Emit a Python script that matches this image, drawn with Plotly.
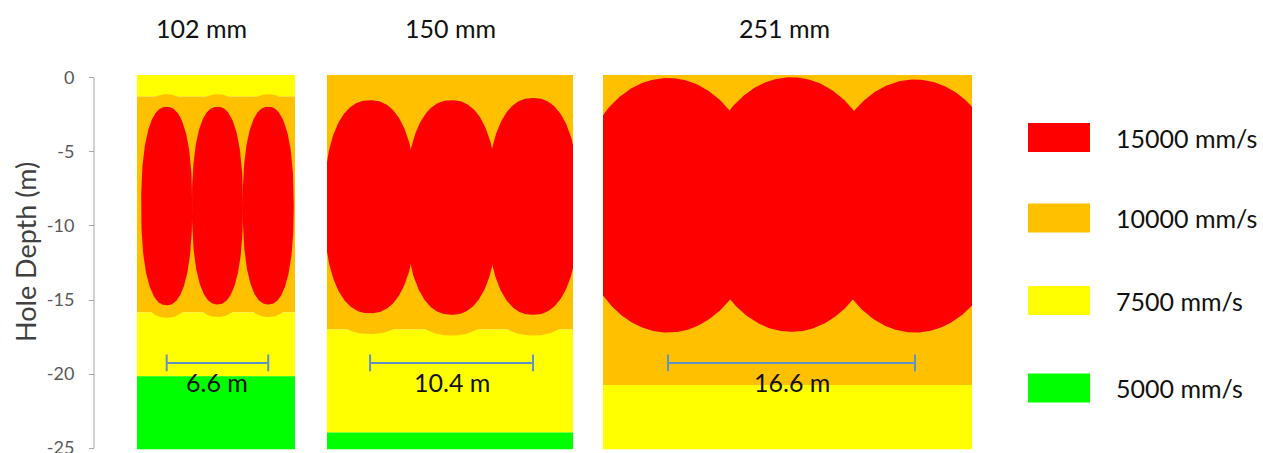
import numpy as np
import plotly.graph_objects as go

# ---------------------------------------------------------------- data
diameters_mm = [102, 150, 251]            # hole diameter per panel
span_m = [6.6, 10.4, 16.6]                # first-to-last hole distance (3 holes)
ppv_levels = [15000, 10000, 7500, 5000]   # contour levels, mm/s

# modelled section extent, metres from the centre hole
extent_102 = [-5.23, 5.04]
extent_150 = [-7.95, 7.75]
extent_251 = [-12.67, 12.13]
section_top = 0.2                          # m

# horizontal bands, top to bottom: PPV level and base depth (m)
bands_102_level = [7500, 10000, 7500, 5000]
bands_102_base = [-1.25, -15.85, -20.15, -25.1]
bands_150_level = [10000, 7500, 5000]
bands_150_base = [-17.0, -23.95, -25.1]
bands_251_level = [10000, 7500]
bands_251_base = [-20.75, -25.1]

# 15000 mm/s core around each hole: top / bottom depth (m) and half-width (m)
core_102_top = [-1.95, -1.95, -1.95]
core_102_bottom = [-15.35, -15.3, -15.3]
core_102_halfwidth = 1.66
core_150_top = [-1.5, -1.5, -1.35]
core_150_bottom = [-15.9, -16.0, -16.0]
core_150_halfwidth = 2.94
core_251_top = [0.0, 0.05, -0.1]
core_251_bottom = [-17.2, -17.15, -17.2]
core_251_halfwidth = 6.2

# 10000 mm/s envelope margin around each core (m)
halo_102 = 0.85
halo_150 = 1.4
halo_251 = 0.0

# y-axis ticks
depth_ticks = [0, -5, -10, -15, -20, -25]

# ---------------------------------------------------------------- style
W, H = 1263, 453
FONT = "Lato"
level_colors = {15000: "#FF0000", 10000: "#FFC000", 7500: "#FFFF00", 5000: "#00FF00"}
bar_color = "#5F93C8"
core_exponent = [2.35, 2.3, 2.0]           # superellipse squareness per panel
panel_px = [(137, 295), (327, 573), (603, 972)]
title_px = [202, 450, 784]
axis_px = 94
y_top_px, y_bot_px = 75, 449.5
bar_depth = -19.25
bar_label_depth = -20.55
y_range = [-25.1, section_top]


def px_x(p):
    return p / W


def px_y(p):
    return 1 - p / H


def superellipse(xc, yc, a, b, n, m=360):
    t = np.linspace(0, 2 * np.pi, m)
    c, s = np.cos(t), np.sin(t)
    x = xc + a * np.sign(c) * np.abs(c) ** (2 / n)
    y = yc + b * np.sign(s) * np.abs(s) ** (2 / n)
    return x, y


def poly(fig, x, y, color, xa):
    fig.add_trace(go.Scatter(
        x=list(x), y=list(y), mode="lines", fill="toself", fillcolor=color,
        line=dict(width=0, color=color), hoverinfo="skip", showlegend=False,
        xaxis=xa, yaxis="y"))


panels = [
    dict(extent=extent_102, levels=bands_102_level, bases=bands_102_base,
         top=core_102_top, bottom=core_102_bottom, hw=core_102_halfwidth, halo=halo_102),
    dict(extent=extent_150, levels=bands_150_level, bases=bands_150_base,
         top=core_150_top, bottom=core_150_bottom, hw=core_150_halfwidth, halo=halo_150),
    dict(extent=extent_251, levels=bands_251_level, bases=bands_251_base,
         top=core_251_top, bottom=core_251_bottom, hw=core_251_halfwidth, halo=halo_251),
]

fig = go.Figure()
layout_axes = {}
annotations = []
text_font = dict(family=FONT, size=25, color="#111111")

for i, p in enumerate(panels):
    xa = "x" if i == 0 else f"x{i + 1}"
    x0, x1 = p["extent"]
    half = span_m[i] / 2
    holes = [-half, 0.0, half]

    # horizontal bands
    top = section_top
    for lvl, base in zip(p["levels"], p["bases"]):
        poly(fig, [x0, x1, x1, x0, x0], [top, top, base, base, top], level_colors[lvl], xa)
        top = base

    # 10000 mm/s envelope around the cores
    if p["halo"] > 0:
        for xc, t, b in zip(holes, p["top"], p["bottom"]):
            yc, hb = (t + b) / 2, (t - b) / 2
            hx, hy = superellipse(xc, yc, p["hw"] + p["halo"], hb + p["halo"], core_exponent[i])
            poly(fig, hx, hy, level_colors[10000], xa)

    # 15000 mm/s cores
    for xc, t, b in zip(holes, p["top"], p["bottom"]):
        yc, hb = (t + b) / 2, (t - b) / 2
        cx, cy = superellipse(xc, yc, p["hw"], hb, core_exponent[i])
        poly(fig, cx, cy, level_colors[15000], xa)

    # hole-spacing dimension line
    fig.add_trace(go.Scatter(
        x=[holes[0], holes[-1]], y=[bar_depth, bar_depth], mode="lines+markers",
        line=dict(color=bar_color, width=2),
        marker=dict(symbol="line-ns-open", size=12, line=dict(color=bar_color, width=2)),
        hoverinfo="skip", showlegend=False, xaxis=xa, yaxis="y"))
    annotations.append(dict(
        x=0.0, y=bar_label_depth, xref=xa, yref="y", text=f"{span_m[i]} m",
        showarrow=False, xanchor="center", yanchor="middle", font=text_font))

    # panel title
    annotations.append(dict(
        x=px_x(title_px[i]), y=px_y(28), xref="paper", yref="paper",
        text=f"{diameters_mm[i]} mm", showarrow=False, xanchor="center", yanchor="middle",
        font=text_font))

    key = "xaxis" if i == 0 else f"xaxis{i + 1}"
    layout_axes[key] = dict(
        domain=[px_x(panel_px[i][0]), px_x(panel_px[i][1])], range=[x0, x1],
        anchor="y", visible=False, fixedrange=True, automargin=False)

# legend: coloured keys with their PPV labels
legend_centres_px = [137.5, 218, 300.5, 388]
shapes = []
for lvl, cy in zip(ppv_levels, legend_centres_px):
    shapes.append(dict(
        type="rect", xref="paper", yref="paper",
        x0=px_x(1028), x1=px_x(1090), y0=px_y(cy + 14.5), y1=px_y(cy - 14.5),
        fillcolor=level_colors[lvl], line=dict(width=0)))
    annotations.append(dict(
        x=px_x(1114), y=px_y(cy), xref="paper", yref="paper", text=f"{lvl} mm/s",
        showarrow=False, xanchor="left", yanchor="middle", font=text_font))

# vertical axis line from 0 to -25 m
shapes.append(dict(type="line", xref="paper", yref="y", x0=px_x(axis_px), x1=px_x(axis_px),
                   y0=depth_ticks[0], y1=depth_ticks[-1], line=dict(color="#A6A6A6", width=1)))

annotations.append(dict(
    x=px_x(26), y=px_y(252), xref="paper", yref="paper", text="Hole Depth (m)",
    textangle=-90, showarrow=False, xanchor="center", yanchor="middle",
    font=dict(family=FONT, size=27, color="#404040")))

fig.update_layout(
    template="none",
    width=W, height=H, margin=dict(l=0, r=0, t=0, b=0, pad=0, autoexpand=False),
    paper_bgcolor="white", plot_bgcolor="rgba(0,0,0,0)",
    showlegend=False, shapes=shapes, annotations=annotations,
    yaxis=dict(
        domain=[px_y(y_bot_px), px_y(y_top_px)], range=y_range,
        anchor="free", position=px_x(axis_px), side="left", automargin=False,
        tickvals=depth_ticks, ticktext=[str(v) for v in depth_ticks],
        ticks="outside", ticklen=5, tickwidth=1, tickcolor="#A6A6A6",
        ticklabelstandoff=11, ticklabeloverflow="allow",
        tickfont=dict(family=FONT, size=18, color="#595959"),
        showgrid=False, zeroline=False, showline=False, fixedrange=True),
    **layout_axes,
)

fig.write_html("out.html", config={"displayModeBar": False})
